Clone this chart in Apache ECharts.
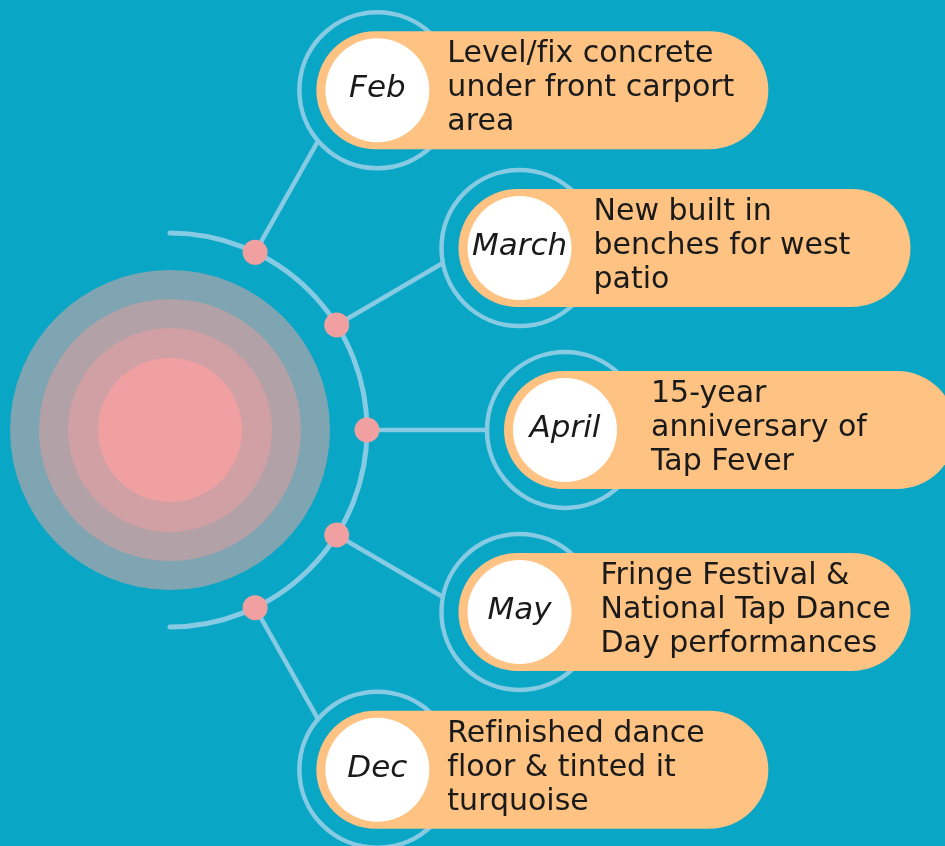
<!DOCTYPE html>
<html>
<head>
<meta charset="utf-8">
<script src="https://cdn.jsdelivr.net/npm/echarts@6/dist/echarts.min.js"></script>
<style>
  html, body { margin: 0; padding: 0; background: #09a6c5; }
  #chart { width: 945px; height: 846px; }
</style>
</head>
<body>
<div id="chart"></div>
<script>
// ---- data ----
const months = ['Feb', 'March', 'April', 'May', 'Dec'];
const descriptions = [
  ['Level/fix concrete', 'under front carport', 'area'],
  ['New built in', 'benches for west', 'patio'],
  ['15-year', 'anniversary of', 'Tap Fever'],
  ['Fringe Festival &', 'National Tap Dance', 'Day performances'],
  ['Refinished dance', 'floor & tinted it', 'turquoise']
];

// ---- layout (not data) ----
const W = 945, H = 846;
const CENTER = [170, 430];
const HUB_RADII = [160, 131, 102, 72];
const HUB_COLORS = ['#7fa4b2', '#b3a1a8', '#d0a0a4', '#f1a0a2'];
const ARC_R = 197;
const DOT_STEP = 32.2;            // degrees between dots on the arc
const ITEM_ANGLES = [58.6, 27.5, 0, -27.5, -58.6];
const ITEM_DIST = [398, 394, 395, 394, 398];
const TEXT_OFFSET = [70, 74, 86, 81, 70];
const RING_R = 78, CIRCLE_R = 52, PILL_W = 452, PILL_H = 118, PILL_LEFT = 61;

const BG = '#09a6c5', LINE = '#86cbe3', PINK = '#f1a0a2', ORANGE = '#fec282', TEXT = '#1a1a1a';
const FONT = '"DejaVu Sans", sans-serif';

// break the "fi" ligature so letters render separately like the reference
function noLig(s) { return s.replace(/f(?=[il])/g, 'f\u200C'); }

const deg = Math.PI / 180;
function dotPos(i) {
  const a = (2 - i) * DOT_STEP * deg;
  return [CENTER[0] + ARC_R * Math.cos(a), CENTER[1] - ARC_R * Math.sin(a)];
}
function itemPos(i) {
  const a = ITEM_ANGLES[i] * deg;
  return [CENTER[0] + ITEM_DIST[i] * Math.cos(a), CENTER[1] - ITEM_DIST[i] * Math.sin(a)];
}
function contact(i) {
  const p = dotPos(i), c = itemPos(i);
  const a = (2 - i) * DOT_STEP * 0.94 * deg;
  const d = [Math.cos(a), -Math.sin(a)];
  const pc = [p[0] - c[0], p[1] - c[1]];
  const b = d[0] * pc[0] + d[1] * pc[1];
  const cc = pc[0] * pc[0] + pc[1] * pc[1] - RING_R * RING_R;
  const t = -b - Math.sqrt(Math.max(0, b * b - cc));
  return [p[0] + t * d[0], p[1] + t * d[1]];
}

const chart = echarts.init(document.getElementById('chart'), null, { renderer: 'canvas' });

const itemData = months.map((m, i) => [i]);

const option = {
  backgroundColor: BG,
  animation: false,
  grid: { left: 0, right: 0, top: 0, bottom: 0 },
  xAxis: { type: 'value', min: 0, max: W, show: false },
  yAxis: { type: 'value', min: 0, max: H, inverse: true, show: false },
  series: [
    {
      type: 'custom', z: 1,
      data: HUB_RADII.map((r, i) => [i]),
      renderItem: function (params, api) {
        const i = api.value(0);
        const c = api.coord(CENTER);
        const r = api.size([HUB_RADII[i], 0])[0];
        return { type: 'circle', shape: { cx: c[0], cy: c[1], r: r }, style: { fill: HUB_COLORS[i] } };
      }
    },
    {
      type: 'custom', z: 2,
      data: [[0]],
      renderItem: function (params, api) {
        const c = api.coord(CENTER);
        return {
          type: 'arc',
          shape: { cx: c[0], cy: c[1], r: ARC_R, startAngle: -Math.PI / 2, endAngle: Math.PI / 2, clockwise: true },
          style: { stroke: LINE, lineWidth: 5, fill: null, lineCap: 'round' }
        };
      }
    },
    {
      type: 'custom', z: 3,
      data: itemData,
      renderItem: function (params, api) {
        const i = api.value(0);
        const p = api.coord(dotPos(i));
        const q = api.coord(contact(i));
        const c = api.coord(itemPos(i));
        return {
          type: 'group',
          children: [
            { type: 'line', shape: { x1: p[0], y1: p[1], x2: q[0], y2: q[1] }, style: { stroke: LINE, lineWidth: 4.5 } },
            { type: 'circle', shape: { cx: c[0], cy: c[1], r: RING_R }, style: { stroke: LINE, lineWidth: 4.5, fill: null } },
            { type: 'rect', shape: { x: c[0] - PILL_LEFT, y: c[1] - PILL_H / 2, width: PILL_W, height: PILL_H, r: PILL_H / 2 }, style: { fill: ORANGE } },
            { type: 'circle', shape: { cx: c[0], cy: c[1], r: CIRCLE_R }, style: { fill: '#ffffff' } },
            { type: 'text', style: { text: months[i], x: c[0], y: c[1] - 1, textAlign: 'center', textVerticalAlign: 'middle', fill: TEXT, font: 'italic 31px ' + FONT } },
            { type: 'text', style: { text: descriptions[i].map(noLig).join('\n'), x: c[0] + TEXT_OFFSET[i], y: c[1] - 2, textAlign: 'left', textVerticalAlign: 'middle', fill: TEXT, font: '30px ' + FONT, lineHeight: 34 } }
          ]
        };
      }
    },
    {
      type: 'custom', z: 4,
      data: itemData,
      renderItem: function (params, api) {
        const i = api.value(0);
        const p = api.coord(dotPos(i));
        return { type: 'circle', shape: { cx: p[0], cy: p[1], r: 12.5 }, style: { fill: PINK } };
      }
    }
  ]
};
chart.setOption(option);
</script>
</body>
</html>
